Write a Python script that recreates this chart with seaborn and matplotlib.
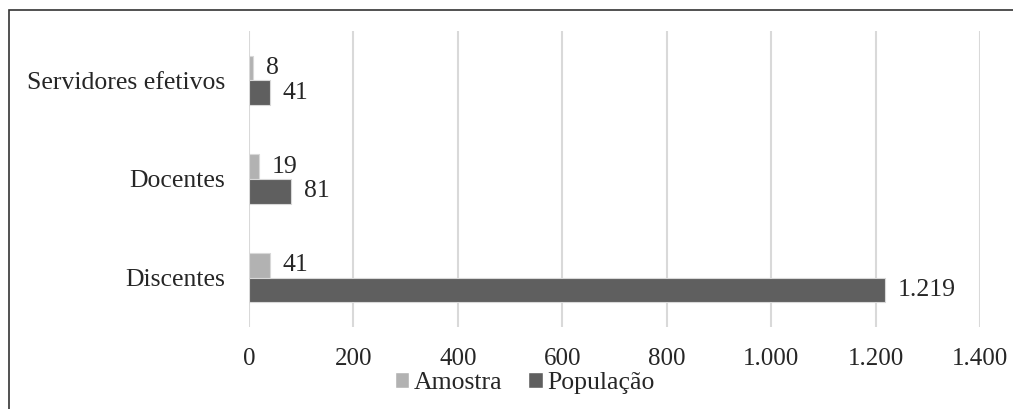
import numpy as np
import matplotlib.pyplot as plt
import seaborn as sns
import pandas as pd
from matplotlib.patches import Rectangle

categorias = ['Servidores efetivos', 'Docentes', 'Discentes']
amostra = [8, 19, 41]
populacao = [41, 81, 1219]
series = ['Amostra', 'População']
cores = ['#b2b2b2', '#5f5f5f']
ticks_x = [0, 200, 400, 600, 800, 1000, 1200, 1400]

df = pd.DataFrame({
    'categoria': categorias * 2,
    'serie': [series[0]] * 3 + [series[1]] * 3,
    'valor': amostra + populacao,
})

sns.set_style('white')
plt.rcParams['font.family'] = ['Liberation Serif', 'DejaVu Serif']

def fmt(v):
    return f'{int(v):,}'.replace(',', '.')

fig = plt.figure(figsize=(10.13, 4.09), dpi=100)
ax = fig.add_axes([249 / 1013, 1 - 327 / 409, (980 - 249) / 1013, (327 - 31) / 409])

sns.barplot(data=df, y='categoria', x='valor', hue='serie', order=categorias,
            hue_order=series, palette=cores, orient='h', width=0.5,
            edgecolor='#d8d8d8', linewidth=0.8, ax=ax, legend=False, zorder=3)

for cont in ax.containers:
    ax.bar_label(cont, labels=[fmt(v) for v in cont.datavalues], padding=9, fontsize=18.5)

ax.set_xlim(0, 1400)
ax.set_xticks(ticks_x)
ax.set_xticklabels([fmt(t) for t in ticks_x], fontsize=18)
ax.tick_params(axis='y', labelsize=18.5, length=0, pad=17)
ax.tick_params(axis='x', length=0, pad=15)
ax.set_xlabel('')
ax.set_ylabel('')
ax.grid(axis='x', color='#d9d9d9', linewidth=1.5, zorder=0)
for s in ax.spines.values():
    s.set_visible(False)

handles = [Rectangle((0, 0), 1, 1, facecolor=c) for c in cores]
fig.legend(handles, series, loc='center', bbox_to_anchor=(525 / 1013, 1 - 383 / 409),
           ncol=2, frameon=False, fontsize=18.5, handlelength=0.55, handleheight=0.55,
           handletextpad=0.2, columnspacing=1.0)

# moldura do gráfico (cortada à direita e embaixo)
fig.patches.append(Rectangle((9 / 1013, -0.05), 1.1, 1 - 10 / 409 + 0.05,
                             transform=fig.transFigure, fill=False,
                             edgecolor='#333333', linewidth=1.2, clip_on=False))

fig.savefig('out.png', dpi=100)
